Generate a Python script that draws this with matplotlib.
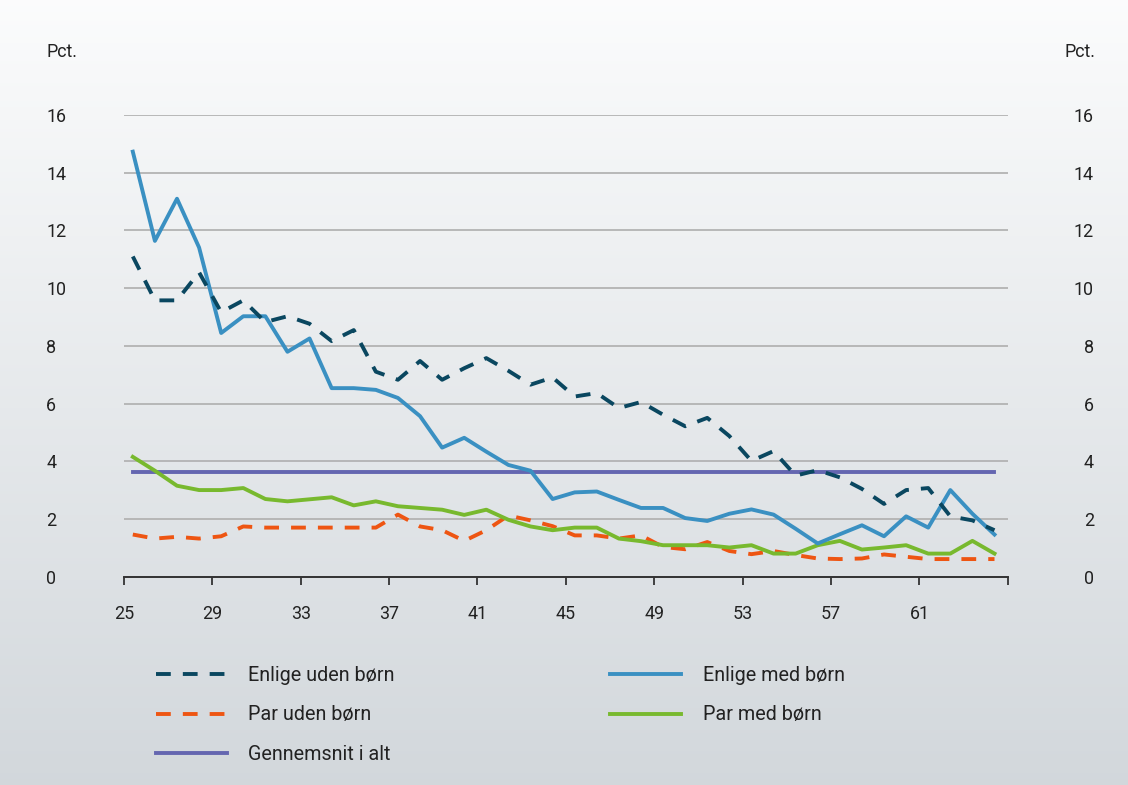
import numpy as np
import matplotlib
matplotlib.use('Agg')
import matplotlib.pyplot as plt

plt.rcParams['font.family'] = ['Roboto', 'DejaVu Sans']

# alder 25-64
ages = np.arange(25, 65)

enlige_uden = [11.10, 9.58, 9.58, 10.55, 9.17, 9.58, 8.83, 9.03, 8.77, 8.17,
               8.55, 7.11, 6.83, 7.48, 6.83, 7.23, 7.58, 7.14, 6.66, 6.91,
               6.25, 6.37, 5.85, 6.06, 5.62, 5.22, 5.51, 4.88, 4.02, 4.36,
               3.51, 3.70, 3.45, 3.05, 2.53, 3.01, 3.08, 2.10, 1.96, 1.62]
enlige_med = [14.73, 11.64, 13.10, 11.41, 8.45, 9.03, 9.03, 7.80, 8.26, 6.54,
              6.54, 6.48, 6.20, 5.57, 4.48, 4.82, 4.34, 3.88, 3.68, 2.70,
              2.93, 2.96, 2.67, 2.39, 2.39, 2.04, 1.94, 2.19, 2.34, 2.16,
              1.67, 1.16, 1.48, 1.79, 1.41, 2.10, 1.71, 3.01, 2.19, 1.47]
par_uden = [1.47, 1.33, 1.39, 1.33, 1.41, 1.75, 1.71, 1.71, 1.71, 1.71,
            1.71, 1.71, 2.16, 1.75, 1.62, 1.25, 1.62, 2.13, 1.96, 1.76,
            1.44, 1.44, 1.33, 1.44, 1.04, 0.96, 1.21, 0.90, 0.79, 0.90,
            0.76, 0.64, 0.62, 0.64, 0.78, 0.70, 0.62, 0.62, 0.62, 0.62]
par_med = [4.16, 3.68, 3.16, 3.01, 3.01, 3.08, 2.70, 2.62, 2.69, 2.76,
           2.48, 2.62, 2.45, 2.39, 2.33, 2.15, 2.33, 1.98, 1.75, 1.62,
           1.71, 1.71, 1.33, 1.24, 1.10, 1.10, 1.10, 1.02, 1.10, 0.81,
           0.81, 1.10, 1.25, 0.95, 1.02, 1.10, 0.81, 0.81, 1.25, 0.81]
gennemsnit = [3.62] * 40

xticks = np.arange(25, 66, 4)
xlabels = [str(a) for a in xticks[:-1]] + ['']
yticks = np.arange(0, 17, 2)

fs = 12.9      # akser
fs_leg = 14.2  # forklaring

fig = plt.figure(figsize=(11.28, 7.85), dpi=100)

# baggrund med gradient
bg = fig.add_axes([0, 0, 1, 1], zorder=-1)
grad = np.linspace(0, 1, 256).reshape(-1, 1)
top = np.array([0.985, 0.988, 0.99])
bottom = np.array([0.825, 0.845, 0.862])
img = top + (bottom - top) * grad[:, :, None]
bg.imshow(img, aspect='auto', extent=[0, 1, 0, 1])
bg.axis('off')

ax = fig.add_axes([0.1099, 0.265, 0.7835, 0.5885])
ax.patch.set_alpha(0)

x = ages + 0.4
lw = 2.8
dash = (3.8, 3.1)
ax.plot(x, gennemsnit, color='#6466b0', lw=lw, label='Gennemsnit i alt', zorder=3)
ax.plot(x, par_uden, color='#ee5512', lw=lw, dashes=dash, label='Par uden børn', zorder=4)
ax.plot(x, par_med, color='#78b92e', lw=lw, label='Par med børn', zorder=5)
ax.plot(x, enlige_med, color='#3a90c2', lw=lw, label='Enlige med børn', zorder=6)
ax.plot(x, enlige_uden, color='#0a4760', lw=lw, dashes=dash, label='Enlige uden børn', zorder=7)

ax.set_xlim(25, 65)
ax.set_ylim(0, 16)
ax.set_yticks(yticks)
ax.yaxis.grid(True, color='#b3b3b3', lw=1.3)
ax.set_axisbelow(True)
for s in ['left', 'right', 'top']:
    ax.spines[s].set_visible(False)
ax.spines['bottom'].set_color('#333333')
ax.spines['bottom'].set_linewidth(1.4)

ax.set_xticks(xticks)
ax.set_xticklabels(xlabels, fontsize=fs, color='#222222')
ax.tick_params(axis='x', direction='out', length=6, width=1.3, color='#333333', pad=14)

ax.tick_params(axis='y', length=0, pad=56, labelsize=fs, labelcolor='#222222')
for t in ax.get_yticklabels():
    t.set_horizontalalignment('left')

ax2 = ax.twinx()
ax2.set_ylim(0, 16)
ax2.set_yticks(yticks)
ax2.tick_params(axis='y', length=0, pad=62, labelsize=fs, labelcolor='#222222')
for t in ax2.get_yticklabels():
    t.set_horizontalalignment('right')
for s in ax2.spines.values():
    s.set_visible(False)

fig.text(46 / 1128, 1 - 52 / 785, 'Pct.', fontsize=fs, color='#222222', ha='left', va='center')
fig.text(1095 / 1128, 1 - 52 / 785, 'Pct.', fontsize=fs, color='#222222', ha='right', va='center')

h, l = ax.get_legend_handles_labels()
order = [4, 1, 0, 3, 2]
fig.legend([h[i] for i in order], [l[i] for i in order], ncol=2,
           loc='upper left', bbox_to_anchor=(138 / 1128, 1 - 648 / 785),
           frameon=False, fontsize=fs_leg, handlelength=3.6, handletextpad=1.1,
           columnspacing=10.9, labelspacing=1.05, labelcolor='#222222')

fig.savefig('out.png', dpi=100)
